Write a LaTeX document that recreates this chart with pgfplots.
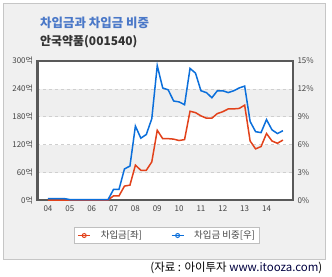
\documentclass[border=0pt]{standalone}
\usepackage{pgfplots}
\pgfplotsset{compat=1.18}
\usepackage{fontspec}
\setmainfont{Noto Sans CJK KR}
\definecolor{redl}{HTML}{E2421B}
\definecolor{bluel}{HTML}{0B6FDB}
\definecolor{titleblue}{HTML}{4A78C8}
\definecolor{frameg}{HTML}{595959}
\definecolor{bgg}{HTML}{F0F0F0}
\definecolor{bandg}{HTML}{EFEFEF}
\definecolor{gridg}{HTML}{CFCFCF}
\definecolor{txtg}{HTML}{444444}
\begin{document}
\begin{tikzpicture}
\useasboundingbox (0bp,0bp) rectangle (332bp,277bp);
\fill[white] (0bp,0bp) rectangle (332bp,277bp);
\draw[fill=bgg,draw=gray!45] (3bp,18bp) rectangle (325.5bp,274bp);
\fill[white] (37.5bp,76.5bp) rectangle (293bp,216bp);
\fill[bandg] (37.5bp,104.4bp) rectangle (293bp,132.3bp);
\fill[bandg] (37.5bp,160.2bp) rectangle (293bp,188.1bp);
\node[anchor=west,font=\fontsize{12.5}{14}\selectfont\bfseries,text=titleblue,inner sep=0] at (40bp,254.5bp) {차입금과 차입금 비중};
\node[anchor=west,font=\fontsize{12}{14}\selectfont\bfseries,text=black!80,inner sep=0] at (40bp,235bp) {안국약품(001540)};
\node[anchor=east,font=\fontsize{11.5}{13}\selectfont,inner sep=0] at (322.5bp,9bp) {(자료 : 아이투자 \textcolor{black!75!blue}{www.itooza.com})};
\begin{axis}[
  at={(37.5bp,76.5bp)}, anchor=south west,
  scale only axis, width=255.5bp, height=139.5bp,
  xmin=-1.92, xmax=44.85, ymin=0, ymax=300,
  xtick={0,4,...,40},
  xticklabels={04,05,06,07,08,09,10,11,12,13,14},
  ytick={0,60,...,300},
  yticklabels={0억,60억,120억,180억,240억,300억},
  major tick length=0pt,
  ticklabel style={font=\fontsize{8}{9}\selectfont,text=txtg},
  xticklabel style={yshift=-2bp},
  yticklabel style={xshift=-1bp},
  ymajorgrids, grid style={gridg,dashed,line width=0.6bp},
  axis line style={frameg,line width=2bp},
  clip=false,
]
\addplot[redl,line width=1.5bp] table {
x y
0 1
1 1
2 1
3 1
4 1
5 1
6 1
7 1
8 1
9 1
10 1
11 1
12 10
13 10
14 31
15 33
16 76
17 65
18 65
19 83
20 151
21 133
22 133
23 132
24 129
25 131
26 192
27 189
28 182
29 177
30 177
31 187
32 191
33 197
34 197
35 198
36 205
37 128
38 111
39 116
40 144
41 128
42 123
43 130
};
\end{axis}
\begin{axis}[
  at={(37.5bp,76.5bp)}, anchor=south west,
  scale only axis, width=255.5bp, height=139.5bp,
  xmin=-1.92, xmax=44.85, ymin=0, ymax=15,
  axis x line=none, axis y line*=right,
  y axis line style={draw=none},
  ytick={0,3,...,15},
  yticklabels={0\%,3\%,6\%,9\%,12\%,15\%},
  major tick length=0pt,
  ticklabel style={font=\fontsize{8}{9}\selectfont,text=txtg},
  yticklabel style={xshift=1bp},
  legend columns=2,
  legend style={at={(0.506,-0.251)},anchor=center,draw=gray!50,fill=white,
    font=\fontsize{9.5}{10}\selectfont,text=txtg,
    /tikz/every even column/.append style={column sep=26bp},
    inner ysep=1.5bp, inner xsep=2bp},
  legend image code/.code={\draw[#1,mark repeat=2,mark phase=2] plot coordinates {(0bp,0bp) (6bp,0bp) (12bp,0bp)};\path (-1bp,0bp) (20bp,0bp);},
  clip=false,
]
\addlegendimage{redl,line width=1.2bp,mark=o,mark size=2bp,mark options={fill=white,line width=1bp}}
\addlegendentry{차입금[좌]}
\addplot[bluel,line width=1.5bp,forget plot] table {
x y
0 0.2
1 0.2
2 0.2
3 0.2
4 0.1
5 0.1
6 0.1
7 0.1
8 0.1
9 0.1
10 0.1
11 0.1
12 1.2
13 1.2
14 3.4
15 3.7
16 8.0
17 6.7
18 7.1
19 8.8
20 14.5
21 12.1
22 11.9
23 10.7
24 10.6
25 10.3
26 14.2
27 13.7
28 11.8
29 11.6
30 11.05
31 11.8
32 11.8
33 11.6
34 11.8
35 12.1
36 12.3
37 8.5
38 7.4
39 7.3
40 8.7
41 7.6
42 7.2
43 7.5
};
\addlegendimage{bluel,line width=1.2bp,mark=o,mark size=2bp,mark options={fill=white,line width=1bp}}
\addlegendentry{차입금 비중[우]}
\end{axis}
\end{tikzpicture}
\end{document}
